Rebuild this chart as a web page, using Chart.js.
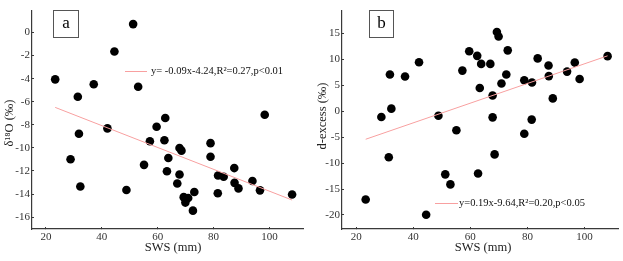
<!DOCTYPE html>
<html><head><meta charset="utf-8">
<script src="https://cdn.jsdelivr.net/npm/chart.js@4/dist/chart.umd.min.js"></script>
<style>
html,body{margin:0;padding:0;background:#fff;}
#wrap{position:relative;width:623px;height:261px;overflow:hidden;}
.p{position:absolute;top:0;height:261px;}
#pa{left:0;width:310px;}
#pb{left:310px;width:313px;}
</style></head><body>
<div id="wrap"><div class="p" id="pa"><canvas id="ca"></canvas></div><div class="p" id="pb"><canvas id="cb"></canvas></div></div>
<script>
// Soil water storage (SWS, mm) shared by both panels
const sws = [23.3,28.8,31.4,31.8,32.3,37.1,42.0,44.5,48.8,51.2,53.0,55.1,57.2,59.6,62.4,62.7,63.3,63.8,67.0,67.8,67.8,68.5,69.3,69.9,70.9,72.6,73.1,78.9,78.9,81.5,81.6,83.6,87.4,87.5,88.9,93.9,96.6,98.3,108.1];
// Panel a: δ18O (‰)
const d18O = [-4.06,-10.99,-5.57,-8.78,-13.34,-4.48,-8.31,-1.65,-13.65,0.73,-4.70,-11.47,-9.43,-8.17,-9.34,-7.41,-12.03,-10.88,-13.09,-10.01,-12.31,-10.24,-14.27,-14.74,-14.35,-15.44,-13.82,-9.59,-10.77,-13.93,-12.39,-12.50,-11.75,-13.03,-13.51,-12.87,-13.68,-7.13,-14.04];
// Panel b: d-excess (‰)
const dExcess = [-17.0,-1.12,-8.88,7.08,0.50,6.71,9.44,-19.94,-0.87,-12.17,-14.1,-3.66,7.83,11.55,10.68,-11.99,4.47,9.13,9.13,3.04,-1.18,-8.32,15.28,14.41,5.34,7.08,11.74,5.96,-4.35,-1.61,5.53,10.19,8.82,6.77,2.48,7.64,9.38,6.21,10.62];
// Regression lines (as drawn)
const fitX = [23.3, 108.1];
const fitA = [-6.49, -14.52];
const fitB = [-5.40, 10.68];
const eqA = 'y= -0.09x-4.24,R\u00B2=0.27,p<0.01';
const eqB = 'y=0.19x-9.64,R\u00B2=0.20,p<0.05';
// Tick labels
const xTicks = [20,40,60,80,100];
const yTicksA = [-16,-14,-12,-10,-8,-6,-4,-2,0];
const yTicksB = [-20,-15,-10,-5,0,5,10,15];
const xTitle = 'SWS (mm)';
const yTitleA = '\u03B4\u00B9\u2078O (\u2030)';
const yTitleB = 'd-excess (\u2030)';

const SERIF = '"Liberation Serif","Times New Roman",serif';
const FIT_COLOR = 'rgb(248,160,160)';
const AXIS_COLOR = '#3a3a3a';

const deco = {
  id: 'deco',
  afterDraw(chart, args, o) {
    const ctx = chart.ctx;
    ctx.save();
    ctx.fillStyle = '#000';
    // panel label box
    ctx.strokeStyle = '#555'; ctx.lineWidth = 1;
    ctx.strokeRect(o.box[0] + 0.5, o.box[1] + 0.5, o.box[2], o.box[3]);
    ctx.font = '17px ' + SERIF; ctx.textAlign = 'center'; ctx.textBaseline = 'middle';
    ctx.fillText(o.label, o.box[0] + o.box[2] / 2 + 0.5, o.box[1] + o.box[3] / 2 + 0.5);
    // legend
    ctx.strokeStyle = FIT_COLOR; ctx.lineWidth = 1;
    ctx.beginPath(); ctx.moveTo(o.leg[0], o.leg[2] + 0.5); ctx.lineTo(o.leg[1], o.leg[2] + 0.5); ctx.stroke();
    ctx.font = '10.5px ' + SERIF; ctx.textAlign = 'left'; ctx.fillStyle = '#111';
    ctx.fillText(o.eq, o.leg[1] + o.gap, o.leg[2]);
    // axis titles
    ctx.font = '12.5px ' + SERIF; ctx.textAlign = 'center'; ctx.fillStyle = '#222';
    ctx.fillText(xTitle, o.xt[0], o.xt[1]);
    ctx.translate(o.yt[0], o.yt[1]); ctx.rotate(-Math.PI / 2);
    ctx.fillText(o.ytitle, 0, 0);
    ctx.restore();
  }
};

function makeChart(id, yVals, fitY, yTicks, yMin, yMax, padRight, decoOpts) {
  return new Chart(document.getElementById(id), {
    data: {
      datasets: [
        { type: 'scatter', data: sws.map((x, i) => ({ x, y: yVals[i] })), backgroundColor: '#000', borderWidth: 0, pointRadius: 4.3, pointHoverRadius: 4.3, order: 2 },
        { type: 'line', data: fitX.map((x, i) => ({ x, y: fitY[i] })), borderColor: FIT_COLOR, borderWidth: 1, pointRadius: 0, fill: false, order: 1 }
      ]
    },
    options: {
      responsive: true, maintainAspectRatio: false, animation: false, devicePixelRatio: 1,
      layout: { padding: { top: 3, right: padRight, left: 0, bottom: 0 } },
      plugins: { legend: { display: false }, tooltip: { enabled: false }, deco: decoOpts },
      scales: {
        x: {
          type: 'linear', min: 15, max: 112,
          afterBuildTicks: s => { s.ticks = xTicks.map(v => ({ value: v })); },
          afterFit: s => { s.height = 32; },
          grid: { drawOnChartArea: false, drawTicks: true, tickLength: -2, color: AXIS_COLOR },
          border: { color: AXIS_COLOR, width: 1.2 },
          ticks: { font: { family: SERIF, size: 11 }, color: '#333', padding: 4, maxRotation: 0 }
        },
        y: {
          type: 'linear', min: yMin, max: yMax,
          afterBuildTicks: s => { s.ticks = yTicks.map(v => ({ value: v })); },
          afterFit: s => { s.width = 32; },
          grid: { drawOnChartArea: false, drawTicks: true, tickLength: -2, color: AXIS_COLOR },
          border: { color: AXIS_COLOR, width: 1.2 },
          ticks: { font: { family: SERIF, size: 11 }, color: '#333', padding: 4 }
        }
      }
    },
    plugins: [deco]
  });
}

makeChart('ca', d18O, fitA, yTicksA, -17.03, 1.9, 7,
  { label: 'a', box: [53, 10, 25, 27], leg: [125, 147, 71], gap: 4, eq: eqA, xt: [173, 248], yt: [10, 123], ytitle: yTitleA });
makeChart('cb', dExcess, fitB, yTicksB, -22.7, 19.4, 1,
  { label: 'b', box: [59, 10, 24, 27], leg: [125, 148, 203], gap: 1, eq: eqB, xt: [173, 248], yt: [13, 116], ytitle: yTitleB });
</script>
</body></html>
